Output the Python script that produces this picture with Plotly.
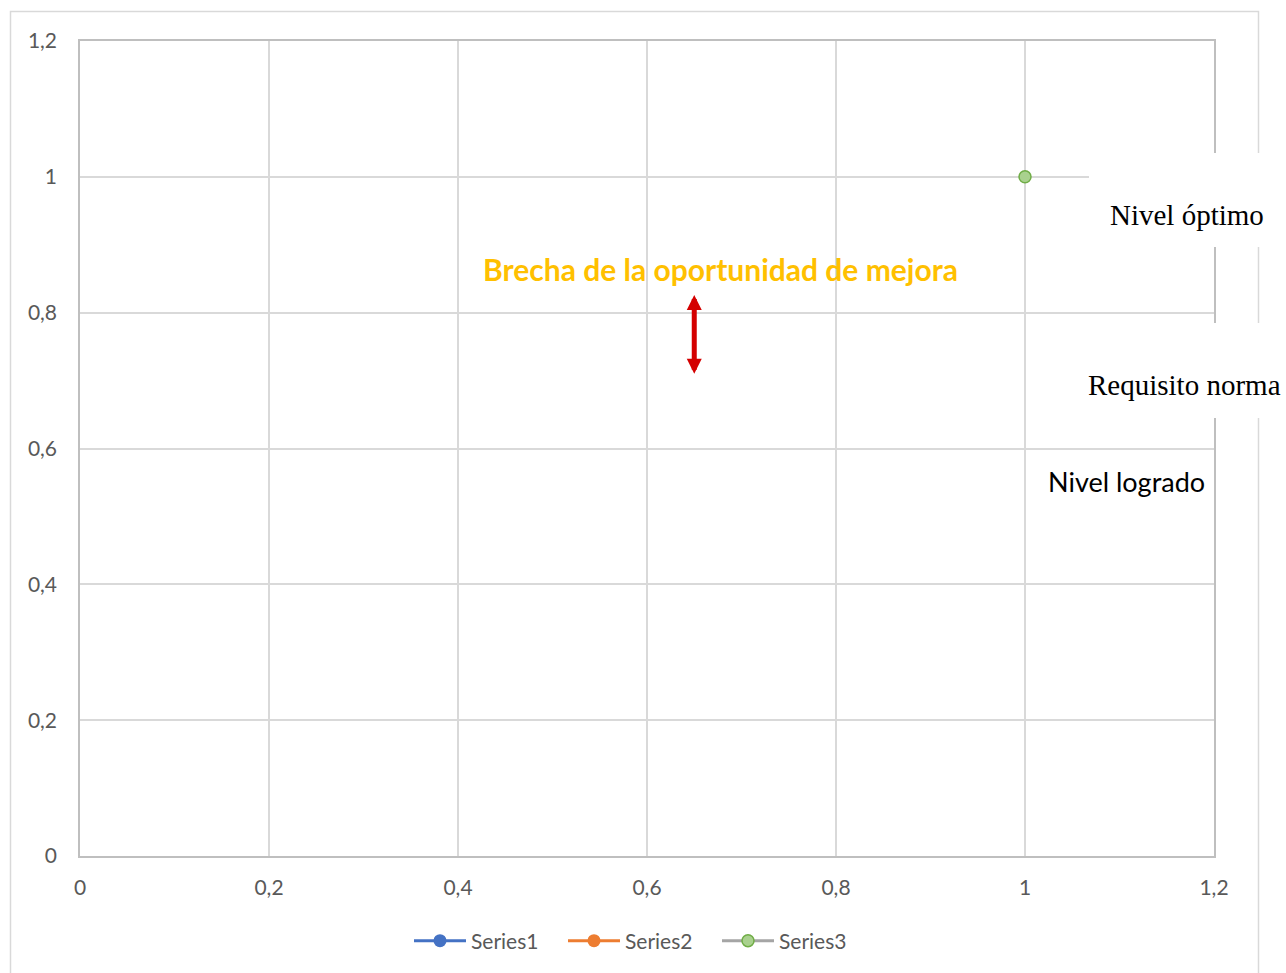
import plotly.graph_objects as go

# Series data (Series1 and Series2 have no plotted points)
series_names = ["Series1", "Series2", "Series3"]
series1_x, series1_y = [None], [None]
series2_x, series2_y = [None], [None]
series3_x, series3_y = [1], [1]

# Gap arrow between the achieved level and the standard requirement
gap_x = 0.65
gap_low, gap_high = 0.708, 0.826

x_ticks = [0, 0.2, 0.4, 0.6, 0.8, 1, 1.2]
y_ticks = [0, 0.2, 0.4, 0.6, 0.8, 1, 1.2]

W, H = 1286, 973
ML, MR, MT, MB = 80, 72, 41, 117
PW, PH = W - ML - MR, H - MT - MB


def px_x(px):
    return (px - ML) / PW


def px_y(py):
    return (H - MB - py) / PH


grid = "#d9d9d9"
tick_font = dict(family="Lato, Open Sans, sans-serif", size=21, color="#595959")

fig = go.Figure()
fig.add_trace(go.Scatter(x=series1_x, y=series1_y, mode="lines+markers", name=series_names[0],
                         line=dict(color="#4472c4", width=3),
                         marker=dict(color="#4472c4", size=13)))
fig.add_trace(go.Scatter(x=series2_x, y=series2_y, mode="lines+markers", name=series_names[1],
                         line=dict(color="#ed7d31", width=3),
                         marker=dict(color="#ed7d31", size=13)))
fig.add_trace(go.Scatter(x=series3_x, y=series3_y, mode="lines+markers", name=series_names[2],
                         line=dict(color="#a5a5a5", width=3),
                         marker=dict(color="#a9d18e", size=12,
                                     line=dict(color="#70ad47", width=1.5))))

shapes = [
    # outer chart frame
    dict(type="rect", xref="paper", yref="paper", layer="below",
         x0=px_x(10.5), x1=px_x(1258.5), y0=px_y(1000), y1=px_y(11.5),
         line=dict(color=grid, width=1.5), fillcolor="rgba(0,0,0,0)"),
    # white label backgrounds
    dict(type="rect", xref="paper", yref="paper", layer="above",
         x0=px_x(1089), x1=px_x(1300), y0=px_y(247), y1=px_y(153),
         line=dict(width=0), fillcolor="white"),
    dict(type="rect", xref="paper", yref="paper", layer="above",
         x0=px_x(1075), x1=px_x(1300), y0=px_y(418), y1=px_y(323),
         line=dict(width=0), fillcolor="white"),
]


def label(px, py, text, family, size, color="black"):
    return dict(x=px_x(px), y=px_y(py), xref="paper", yref="paper", showarrow=False,
                xanchor="center", yanchor="middle", text=text,
                font=dict(family=family, size=size, color=color))


sans = "Lato, Open Sans, sans-serif"
serif = "Liberation Serif, Times New Roman, serif"

annotations = [
    dict(x=gap_x, y=gap_high, ax=gap_x, ay=gap_low, xref="x", yref="y", axref="x", ayref="y",
         text="", showarrow=True, arrowhead=2, arrowside="end+start", arrowsize=0.6,
         arrowwidth=5, arrowcolor="#d40000"),
    label(720, 269, "<b>Brecha de la oportunidad de mejora</b>", sans, 30, "#ffc000"),
    label(1187, 215, "Nivel óptimo", serif, 29),
    label(1184, 385, "Requisito norma", serif, 29),
    label(1126, 481, "Nivel logrado", sans, 27),
]

fig.update_layout(
    width=W, height=H,
    margin=dict(l=ML, r=MR, t=MT, b=MB),
    paper_bgcolor="white", plot_bgcolor="white",
    separators=", ",
    showlegend=True,
    legend=dict(orientation="h", x=px_x(640), y=px_y(941), xanchor="center", yanchor="middle",
                font=tick_font, itemwidth=52, entrywidth=87, entrywidthmode="pixels"),
    shapes=shapes,
    annotations=annotations,
    xaxis=dict(range=[0, 1.2], tickvals=x_ticks, showgrid=True, gridcolor=grid, gridwidth=1.5,
               zeroline=False, showline=True, linecolor="#bfbfbf", linewidth=1.5, mirror=True,
               ticks="", tickfont=tick_font, ticklabelstandoff=12),
    yaxis=dict(range=[0, 1.2], tickvals=y_ticks, showgrid=True, gridcolor=grid, gridwidth=1.5,
               zeroline=False, showline=True, linecolor="#bfbfbf", linewidth=1.5, mirror=True,
               ticks="", tickfont=tick_font, ticklabelstandoff=17),
)

fig.write_html("out.html")
